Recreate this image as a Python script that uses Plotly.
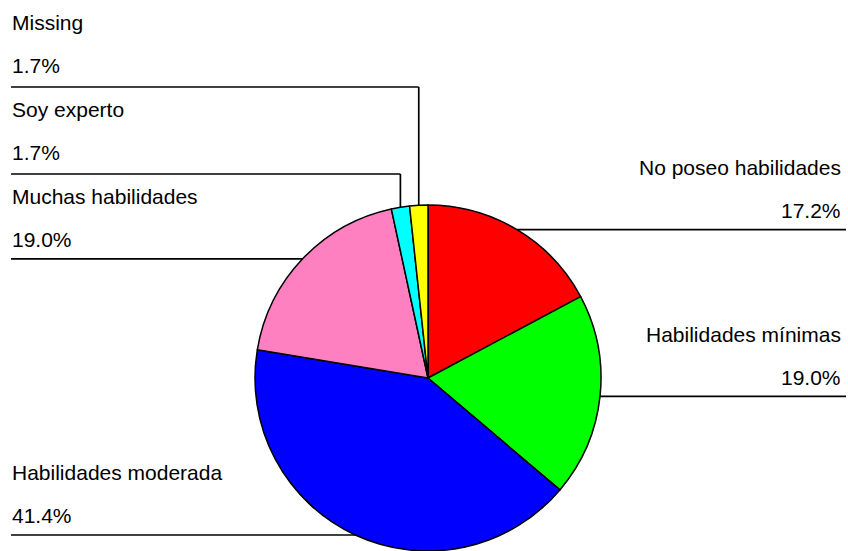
import math
import plotly.graph_objects as go

# Survey answers and their shares (percent)
categories = ["No poseo habilidades", "Habilidades mínimas", "Habilidades moderada",
              "Muchas habilidades", "Soy experto", "Missing"]
shares = [17.2, 19.0, 41.4, 19.0, 1.7, 1.7]
slice_colors = ["#FF0000", "#00FF00", "#0000FF", "#FF80C0", "#00FFFF", "#FFFF00"]

W, H = 848, 551
CX, R = 428, 173          # pie centre x and radius in pixels
CY = H - R                # pie sits on the bottom edge

FONT = dict(family="Liberation Sans, Arial, sans-serif", size=21, color="black")
LINE = dict(color="black", width=1.7)

fig = go.Figure()
fig.add_trace(go.Pie(
    labels=categories, values=shares, sort=False, direction="clockwise",
    rotation=0, textinfo="none", hoverinfo="label+percent",
    marker=dict(colors=slice_colors, line=dict(color="black", width=1.5)),
    domain=dict(x=[(CX - R) / W, (CX + R) / W], y=[0, 2 * R / H]),
    showlegend=False,
))

# mid-angle point of every slice on the rim
total = sum(shares)
rim = []
acc = 0.0
for v in shares:
    theta = 2 * math.pi * (acc + v / 2) / total
    rim.append((CX + R * math.sin(theta), CY - R * math.cos(theta)))
    acc += v

shapes, annotations = [], []


def add_label(name, pct, x_text, anchor, line_y, gap_name=62, gap_pct=19):
    annotations.append(dict(x=x_text, y=line_y - gap_name, text=name, showarrow=False,
                            xanchor=anchor, yanchor="middle", font=FONT,
                            xref="x", yref="y"))
    annotations.append(dict(x=x_text, y=line_y - gap_pct, text=pct, showarrow=False,
                            xanchor=anchor, yanchor="middle", font=FONT,
                            xref="x", yref="y"))


LEFT_X, RIGHT_X = 11, 846
# right-hand labels: horizontal leader from the rim to the page edge
for i in (0, 1):
    px, py = rim[i]
    shapes.append(dict(type="line", x0=px, y0=py, x1=RIGHT_X, y1=py, line=LINE,
                       xref="x", yref="y"))
    add_label(categories[i], f"{shares[i]:.1f}%", RIGHT_X - 3, "right", py)

# left-hand labels with a direct horizontal leader
for i in (2, 3):
    px, py = rim[i]
    shapes.append(dict(type="line", x0=LEFT_X, y0=py, x1=px, y1=py, line=LINE,
                       xref="x", yref="y"))
    add_label(categories[i], f"{shares[i]:.1f}%", LEFT_X - 1, "left", py)

# thin slices at the top: vertical leader up to a shelf line
shelf_y = {4: 174, 5: 87}
for i, sy in shelf_y.items():
    px, py = rim[i]
    shapes.append(dict(type="line", x0=px, y0=py, x1=px, y1=sy, line=LINE,
                       xref="x", yref="y"))
    shapes.append(dict(type="line", x0=LEFT_X, y0=sy, x1=px, y1=sy, line=LINE,
                       xref="x", yref="y"))
    add_label(categories[i], f"{shares[i]:.1f}%", LEFT_X - 1, "left", sy,
              gap_name=65, gap_pct=22)

fig.update_layout(
    width=W, height=H, margin=dict(l=0, r=0, t=0, b=0),
    paper_bgcolor="white", plot_bgcolor="rgba(0,0,0,0)",
    xaxis=dict(range=[0, W], visible=False, fixedrange=True),
    yaxis=dict(range=[H, 0], visible=False, fixedrange=True),
    shapes=shapes, annotations=annotations,
)

fig.write_html("out.html")
